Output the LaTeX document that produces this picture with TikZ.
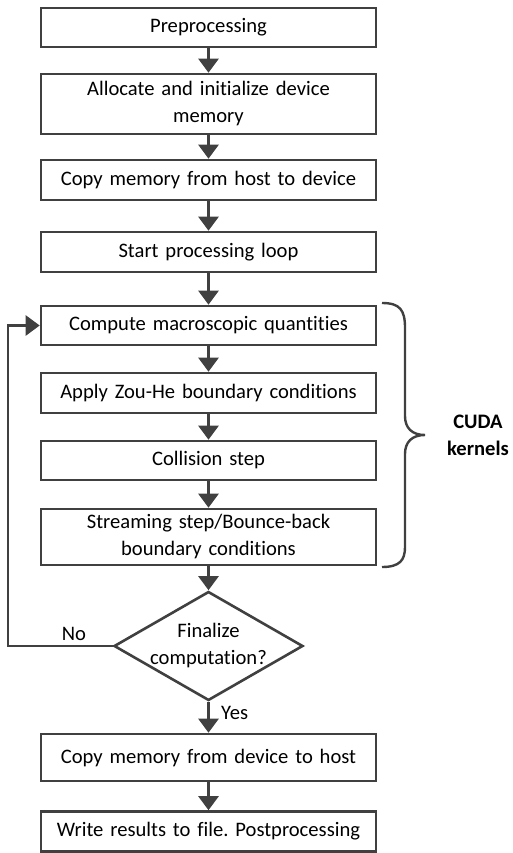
\documentclass[tikz,border=0pt]{standalone}
\usepackage{fontspec}
\setmainfont[Ligatures=NoCommon]{Carlito}
\usetikzlibrary{arrows.meta,shapes.geometric}
\definecolor{lc}{RGB}{64,64,64}
\tikzset{
  box/.style={draw=lc, line width=2.6pt, minimum width=335pt, inner sep=0pt, align=center, text width=330pt, font=\fontsize{20.6}{27}\selectfont},
  arr/.style={draw=lc, line width=2.6pt, -{Triangle[width=20pt,length=14pt]}},
  lbl/.style={font=\fontsize{20.6}{27}\selectfont, inner sep=0pt}
}
\frenchspacing
\begin{document}
\begin{tikzpicture}[x=1pt,y=-1pt]
\useasboundingbox (0,0) rectangle (512,853);
\node[box, minimum height=39pt] (b1) at (208.5,27.5) {Preprocessing};
\node[box, minimum height=60pt] (b2) at (208.5,104) {Allocate and initialize device\\memory};
\node[box, minimum height=40pt] (b3) at (208.5,180) {Copy memory from host to device};
\node[box, minimum height=40pt] (b4) at (208.5,252) {Start processing loop};
\node[box, minimum height=39pt] (b5) at (208.5,325.5) {Compute macroscopic quantities};
\node[box, minimum height=40pt] (b6) at (208.5,393) {Apply Zou-He boundary conditions};
\node[box, minimum height=39pt] (b7) at (208.5,460.5) {Collision step};
\node[box, minimum height=56pt] (b8) at (208.5,537) {Streaming step/Bounce-back\\boundary conditions};
\node[draw=lc, line width=2.6pt, shape=diamond, minimum width=189pt, minimum height=109pt, inner sep=0pt] (d) at (208.5,646) {};
\node[lbl, align=center] (dt) at (208.5,646) {Finalize\\computation?};
\node[box, minimum height=47pt] (b9) at (208.5,757.5) {Copy memory from device to host};
\node[box, minimum height=40pt] (b10) at (208.5,831.5) {Write results to file. Postprocessing};

\draw[arr] (b1) -- (b2);
\draw[arr] (b2) -- (b3);
\draw[arr] (b3) -- (b4);
\draw[arr] (b4) -- (b5);
\draw[arr] (b5) -- (b6);
\draw[arr] (b6) -- (b7);
\draw[arr] (b7) -- (b8);
\draw[arr] (b8) -- (d);
\draw[arr] (d) -- (b9);
\draw[arr] (b9) -- (b10);
\coordinate (lc1) at (8,646);
\coordinate (lc2) at (8,325.5);
\draw[arr] (d.west) -- (lc1) -- (lc2) -- (b5.west);
\node[lbl] (no) at (74,634) {No};
\node[lbl, anchor=west] (yes) at (221,713) {Yes};

\draw[draw=lc, line width=2.4pt] (382,303) .. controls (400,303) and (405,310) .. (405,328) -- (405,416) .. controls (405,428) and (412,435) .. (425,435) .. controls (412,435) and (405,442) .. (405,454) -- (405,547) .. controls (405,560) and (400,567) .. (382,567);
\node[lbl, align=center, font=\fontsize{20.6}{27}\selectfont\bfseries] (cuda) at (478,435) {CUDA\\kernels};
\end{tikzpicture}
\end{document}
